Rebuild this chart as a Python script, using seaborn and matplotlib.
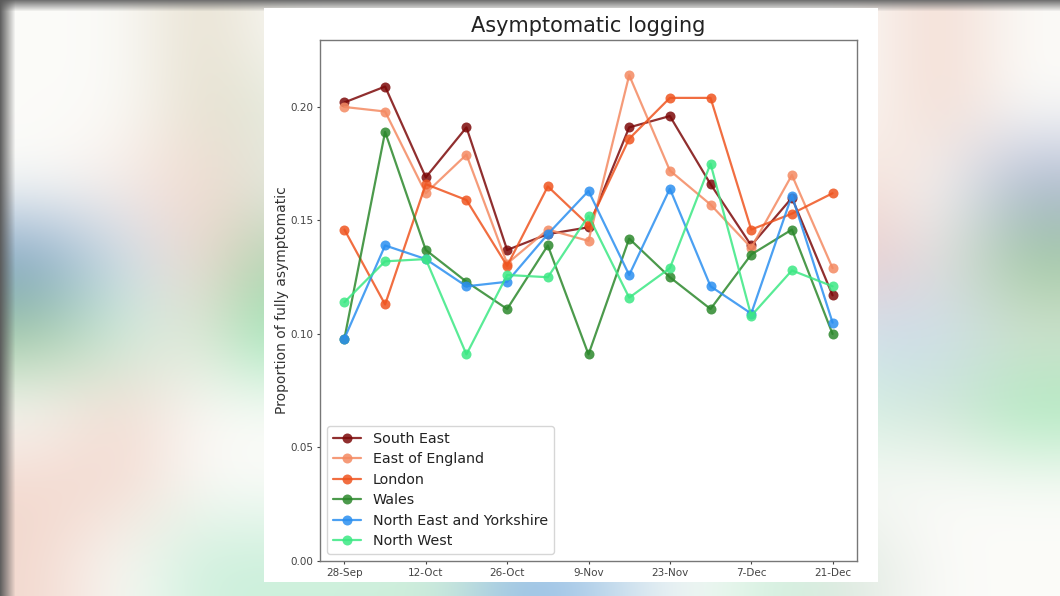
import numpy as np
import pandas as pd
import matplotlib
matplotlib.use("Agg")
import matplotlib.pyplot as plt
import matplotlib.dates as mdates
from matplotlib.patches import Rectangle
import seaborn as sns

# data (weekly proportion fully asymptomatic)
weeks = ["2020-09-28", "2020-10-05", "2020-10-12", "2020-10-19", "2020-10-26",
         "2020-11-02", "2020-11-09", "2020-11-16", "2020-11-23", "2020-11-30",
         "2020-12-07", "2020-12-14", "2020-12-21"]
regions = ["South East", "East of England", "London", "Wales",
           "North East and Yorkshire", "North West"]
south_east = [0.202, 0.209, 0.169, 0.191, 0.137, 0.144, 0.147, 0.191, 0.196, 0.166, 0.139, 0.160, 0.117]
east_of_england = [0.200, 0.198, 0.162, 0.179, 0.131, 0.146, 0.141, 0.214, 0.172, 0.157, 0.138, 0.170, 0.129]
london = [0.146, 0.113, 0.166, 0.159, 0.130, 0.165, 0.148, 0.186, 0.204, 0.204, 0.146, 0.153, 0.162]
wales = [0.098, 0.189, 0.137, 0.123, 0.111, 0.139, 0.091, 0.142, 0.125, 0.111, 0.135, 0.146, 0.100]
ne_yorkshire = [0.098, 0.139, 0.133, 0.121, 0.123, 0.144, 0.163, 0.126, 0.164, 0.121, 0.109, 0.161, 0.105]
north_west = [0.114, 0.132, 0.133, 0.091, 0.126, 0.125, 0.152, 0.116, 0.129, 0.175, 0.108, 0.128, 0.121]
tick_weeks = ["2020-09-28", "2020-10-12", "2020-10-26", "2020-11-09",
              "2020-11-23", "2020-12-07", "2020-12-21"]

series = [south_east, east_of_england, london, wales, ne_yorkshire, north_west]
colors = ["#7d0a0a", "#f48a62", "#ef5520", "#2c882c", "#2b8ff0", "#3ce884"]

df = pd.DataFrame({
    "week": pd.to_datetime(weeks * len(regions)),
    "prop": [v for s in series for v in s],
    "region": [r for r in regions for _ in weeks],
})

sns.set_style("ticks")
plt.rcParams["font.family"] = ["DejaVu Sans"]

fig = plt.figure(figsize=(10.6, 5.96), dpi=100)

# blurred photo-like backdrop behind the chart panel
W = (0.985, 0.985, 0.975)
P = (0.95, 0.85, 0.81)
B = (0.80, 0.87, 0.93)
DB = (0.48, 0.62, 0.77)
G = (0.62, 0.79, 0.62)
LG = (0.80, 0.94, 0.86)
BG = (0.50, 0.90, 0.65)
BE = (0.90, 0.87, 0.80)
grid = np.array([
    [W, W, BE, W, W, W, W, W, W, W, W, P, W],
    [W, W, BE, (0.88, 0.92, 0.86), W, W, W, W, W, W, W, P, W],
    [W, (0.97, 0.92, 0.9), P, (0.88, 0.92, 0.88), W, W, W, W, W, W, P, W, (0.66, 0.7, 0.82)],
    [DB, B, P, G, W, W, W, W, W, W, (0.91, 0.76, 0.76), (0.9, 0.88, 0.9), G],
    [G, LG, (0.88, 0.9, 0.84), BG, W, W, W, W, W, W, B, B, (0.84, 0.89, 0.83)],
    [W, P, W, W, W, W, W, W, W, W, LG, (0.83, 0.9, 0.85), (0.66, 0.91, 0.73)],
    [P, P, W, W, W, W, W, W, W, W, W, W, W],
    [P, W, LG, LG, LG, (0.8, 0.92, 0.85), (0.55, 0.72, 0.9), (0.75, 0.85, 0.92), W, LG, (0.88, 0.91, 0.88), W, W],
])
bg = fig.add_axes([0, 0, 1, 1])
bg.imshow(grid, extent=(0, 1060, 596, 0), interpolation="bicubic", aspect="auto")
top_edge = np.zeros((12, 1, 4))
top_edge[..., :3] = 0.42
top_edge[:, 0, 3] = np.linspace(0.95, 0, 12)
bg.imshow(top_edge, extent=(0, 1060, 12, 0), aspect="auto")
left_edge = np.zeros((1, 16, 4))
left_edge[..., :3] = 0.35
left_edge[0, :, 3] = np.linspace(0.95, 0, 16)
bg.imshow(left_edge, extent=(0, 16, 596, 0), aspect="auto")
bg.add_patch(Rectangle((264, 8), 614, 574, facecolor="white", edgecolor="none"))
bg.set_xlim(0, 1060)
bg.set_ylim(596, 0)
bg.axis("off")

# the chart itself
ax = fig.add_axes([320 / 1060, 35 / 596, 537 / 1060, 521 / 596])
sns.lineplot(data=df, x="week", y="prop", hue="region", hue_order=regions,
             palette=colors, marker="o", markersize=7.2, markeredgewidth=0,
             linewidth=1.6, alpha=0.85, errorbar=None, legend=False, ax=ax)

ax.set_ylim(0, 0.2295)
ax.set_yticks([0.0, 0.05, 0.10, 0.15, 0.20])
ax.yaxis.set_major_formatter(matplotlib.ticker.FormatStrFormatter("%.2f"))
ax.set_xticks(pd.to_datetime(tick_weeks))
ax.xaxis.set_major_formatter(mdates.DateFormatter("%-d-%b"))
ax.tick_params(labelsize=7.5, colors="#444444", length=2.5, width=0.8, pad=2.5)
for sp in ax.spines.values():
    sp.set_color("#777777")
    sp.set_linewidth(1.0)
ax.set_xlabel("")
ax.set_ylabel("Proportion of fully asymptomatic", fontsize=10, color="#333333",
              labelpad=1)
ax.set_title("Asymptomatic logging", fontsize=15, color="#222222", pad=6)

leg = ax.legend(ax.get_lines(), regions, loc="lower left", fontsize=10.3,
                frameon=True, framealpha=0.8, edgecolor="#cccccc",
                handlelength=2.0, borderaxespad=0.5, labelspacing=0.45)
for t in leg.get_texts():
    t.set_color("#222222")

fig.savefig("out.png", dpi=100)
